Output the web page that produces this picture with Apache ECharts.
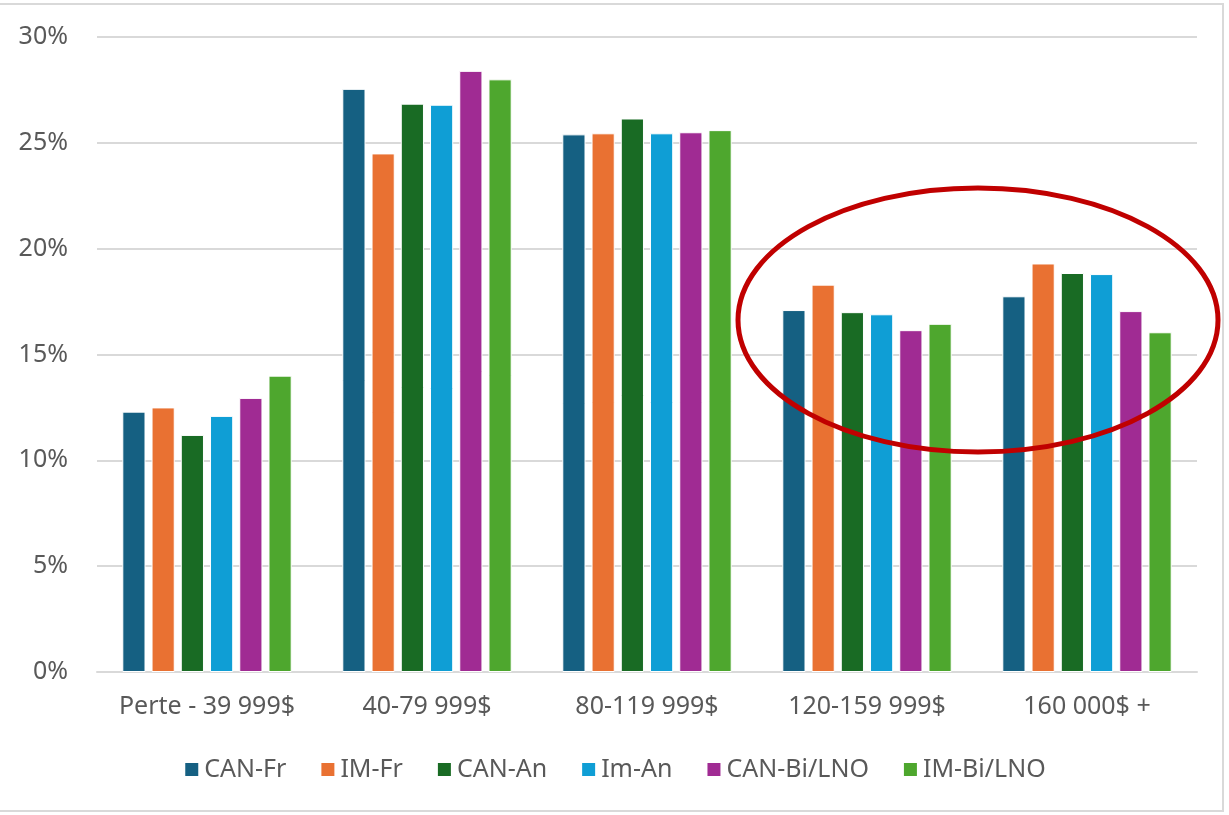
<!DOCTYPE html>
<html>
<head>
<meta charset="utf-8">
<script src="https://cdn.jsdelivr.net/npm/echarts@6/dist/echarts.min.js"></script>
<style>
  html, body { margin: 0; padding: 0; background: #fff; }
  #chart { width: 1229px; height: 815px; }
</style>
</head>
<body>
<div id="chart"></div>
<script>
const categories = ['Perte - 39 999$', '40-79 999$', '80-119 999$', '120-159 999$', '160 000$ +'];
const seriesNames = ['CAN-Fr', 'IM-Fr', 'CAN-An', 'Im-An', 'CAN-Bi/LNO', 'IM-Bi/LNO'];
const canFr = [12.3, 27.55, 25.4, 17.1, 17.75];
const imFr = [12.5, 24.5, 25.45, 18.3, 19.3];
const canAn = [11.2, 26.85, 26.15, 17.0, 18.85];
const imAn = [12.1, 26.8, 25.45, 16.9, 18.8];
const canBi = [12.95, 28.4, 25.5, 16.15, 17.05];
const imBi = [14.0, 28.0, 25.6, 16.45, 16.05];
const yTicks = [0, 5, 10, 15, 20, 25, 30];

const colors = ['#156082', '#E97132', '#196B24', '#0F9ED5', '#A02B93', '#4EA72E'];
const values = [canFr, imFr, canAn, imAn, canBi, imBi];
const font = 'Noto Sans';

const chart = echarts.init(document.getElementById('chart'));
chart.setOption({
  animation: false,
  color: colors,
  textStyle: { fontFamily: font },
  grid: { left: 97, right: 32, top: 37, bottom: 143 },
  legend: {
    top: 752,
    left: 'center',
    itemWidth: 15,
    itemHeight: 15,
    itemGap: 33,
    icon: 'rect',
    textStyle: { fontSize: 25, color: '#595959', fontFamily: font },
    data: seriesNames
  },
  xAxis: {
    type: 'category',
    data: categories,
    axisTick: { show: false },
    axisLine: { lineStyle: { color: '#d9d9d9', width: 2 } },
    axisLabel: { fontSize: 25, color: '#595959', margin: 22, interval: 0, hideOverlap: false }
  },
  yAxis: {
    type: 'value',
    min: yTicks[0],
    max: yTicks[yTicks.length - 1],
    interval: 5,
    axisLabel: { fontSize: 25, color: '#595959', margin: 29, formatter: v => v + '%' },
    splitLine: { lineStyle: { color: '#d9d9d9', width: 2 } },
    axisLine: { show: false },
    axisTick: { show: false }
  },
  series: seriesNames.map((name, i) => ({
    name: name,
    type: 'bar',
    data: values[i],
    barGap: '26%',
    barCategoryGap: '23%',
    itemStyle: { borderColor: '#ffffff', borderWidth: 1 }
  })),
  graphic: [
    {
      type: 'rect',
      shape: { x: -2, y: 4, width: 1225, height: 807 },
      style: { fill: 'none', stroke: '#d9d9d9', lineWidth: 2 },
      silent: true
    },
    {
      type: 'ellipse',
      shape: { cx: 978, cy: 320, rx: 240, ry: 132 },
      style: { fill: 'none', stroke: '#C00000', lineWidth: 5 },
      z: 100,
      silent: true
    }
  ]
});
</script>
</body>
</html>
